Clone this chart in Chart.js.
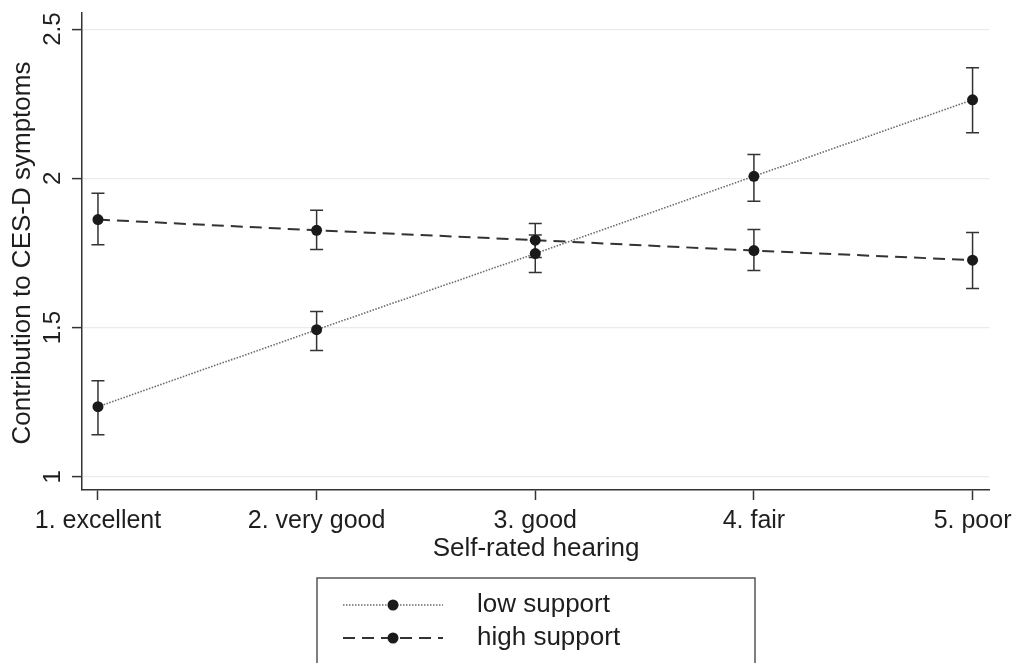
<!DOCTYPE html>
<html>
<head>
<meta charset="utf-8">
<script src="https://cdn.jsdelivr.net/npm/chart.js@4/dist/chart.umd.min.js"></script>
<style>
  html, body { margin: 0; padding: 0; background: #fff; }
  canvas { display: block; }
</style>
</head>
<body>
<canvas id="c" width="1018" height="663"></canvas>
<script>
// values
let categories = ["1. excellent", "2. very good", "3. good", "4. fair", "5. poor"]
let xValues = [1, 2, 3, 4, 5]
let lowSupport = [1.235, 1.493, 1.748, 2.007, 2.263]
let lowUpper = [1.322, 1.554, 1.810, 2.080, 2.371]
let lowLower = [1.141, 1.423, 1.685, 1.923, 2.153]
let highSupport = [1.862, 1.826, 1.793, 1.758, 1.726]
let highUpper = [1.950, 1.893, 1.849, 1.829, 1.819]
let highLower = [1.778, 1.762, 1.735, 1.691, 1.631]
let yTicks = [1, 1.5, 2, 2.5]
let yTickLabels = ["1", "1.5", "2", "2.5"]
let seriesNames = ["low support", "high support"]

const FONT = "'Liberation Sans', Arial, Helvetica, sans-serif"
const INK = "#1e1e1e"

let toPoints = function (ys) {
    return xValues.map((x, i) => ({x: x, y: ys[i]}))
}

let errorBars = {
    id: "errorBars",
    beforeDatasetsDraw(chart) {
        const ctx = chart.ctx
        const xs = chart.scales.x
        const ys = chart.scales.y
        const sets = [[lowUpper, lowLower], [highUpper, highLower]]
        ctx.save()
        ctx.strokeStyle = "#333"
        ctx.lineWidth = 1.5
        sets.forEach(s => {
            xValues.forEach((xv, i) => {
                const px = xs.getPixelForValue(xv)
                const top = ys.getPixelForValue(s[0][i])
                const bot = ys.getPixelForValue(s[1][i])
                ctx.beginPath()
                ctx.moveTo(px, top); ctx.lineTo(px, bot)
                ctx.moveTo(px - 6.5, top); ctx.lineTo(px + 6.5, top)
                ctx.moveTo(px - 6.5, bot); ctx.lineTo(px + 6.5, bot)
                ctx.stroke()
            })
        })
        ctx.restore()
    }
}

let extraText = {
    id: "extraText",
    afterDraw(chart) {
        const ctx = chart.ctx
        const ys = chart.scales.y
        ctx.save()
        ctx.fillStyle = INK
        // rotated y tick labels
        ctx.font = "24px " + FONT
        ctx.textAlign = "center"
        ctx.textBaseline = "middle"
        yTicks.forEach((v, i) => {
            const py = ys.getPixelForValue(v)
            ctx.save()
            ctx.translate(53, py)
            ctx.rotate(-Math.PI / 2)
            ctx.fillText(yTickLabels[i], 0, 0)
            ctx.restore()
        })
        // y title
        ctx.save()
        ctx.font = "26px " + FONT
        ctx.translate(23, 253)
        ctx.rotate(-Math.PI / 2)
        ctx.fillText("Contribution to CES-D symptoms", 0, 0)
        ctx.restore()
        // x title
        ctx.font = "26px " + FONT
        ctx.fillText("Self-rated hearing", 536, 549)

        // legend box
        ctx.strokeStyle = "#555"
        ctx.lineWidth = 1.5
        ctx.strokeRect(317, 578, 438, 100)
        const rows = [605, 638]
        chart.data.datasets.forEach((ds, i) => {
            const y = rows[i]
            ctx.save()
            ctx.strokeStyle = ds.borderColor
            ctx.lineWidth = ds.borderWidth
            ctx.setLineDash(ds.borderDash)
            ctx.beginPath()
            ctx.moveTo(343, y); ctx.lineTo(443, y)
            ctx.stroke()
            ctx.setLineDash([])
            ctx.fillStyle = ds.pointBackgroundColor
            ctx.beginPath()
            ctx.arc(393, y, 5.5, 0, Math.PI * 2)
            ctx.fill()
            ctx.restore()
            ctx.font = "26px " + FONT
            ctx.textAlign = "left"
            ctx.fillText(seriesNames[i], 477, y)
        })
        ctx.restore()
    }
}

new Chart(document.getElementById("c"), {
    type: "line",
    data: {
        datasets: [
            {
                label: seriesNames[0],
                data: toPoints(lowSupport),
                borderColor: "#6a6a6a",
                borderWidth: 1.6,
                borderDash: [1.5, 1.5],
                pointRadius: 5.5,
                pointBackgroundColor: "#1a1a1a",
                pointBorderWidth: 0,
                tension: 0
            },
            {
                label: seriesNames[1],
                data: toPoints(highSupport),
                borderColor: "#333",
                borderWidth: 2,
                borderDash: [12, 7],
                pointRadius: 5.5,
                pointBackgroundColor: "#1a1a1a",
                pointBorderWidth: 0,
                tension: 0
            }
        ]
    },
    options: {
        responsive: false,
        animation: false,
        devicePixelRatio: 1,
        layout: {padding: {top: 13, right: 28, left: 0, bottom: 0}},
        plugins: {legend: {display: false}, tooltip: {enabled: false}},
        scales: {
            x: {
                type: "linear",
                min: 0.927,
                max: 5.078,
                afterBuildTicks: s => { s.ticks = xValues.map(v => ({value: v})) },
                afterFit: s => { s.height = 173 },
                ticks: {
                    callback: v => categories[xValues.indexOf(v)],
                    font: {family: FONT, size: 25},
                    color: INK,
                    padding: 6,
                    maxRotation: 0
                },
                grid: {drawOnChartArea: false, tickLength: 10, tickColor: "#333", tickWidth: 1.5},
                border: {color: "#333", width: 1.5}
            },
            y: {
                type: "linear",
                min: 0.956,
                max: 2.554,
                afterBuildTicks: s => { s.ticks = yTicks.map(v => ({value: v})) },
                afterFit: s => { s.width = 82 },
                ticks: {display: false},
                grid: {color: "#ebebeb", lineWidth: 1.2, tickLength: 10, tickColor: "#333", tickWidth: 1.5},
                border: {color: "#333", width: 1.5}
            }
        }
    },
    plugins: [errorBars, extraText]
})
</script>
</body>
</html>
